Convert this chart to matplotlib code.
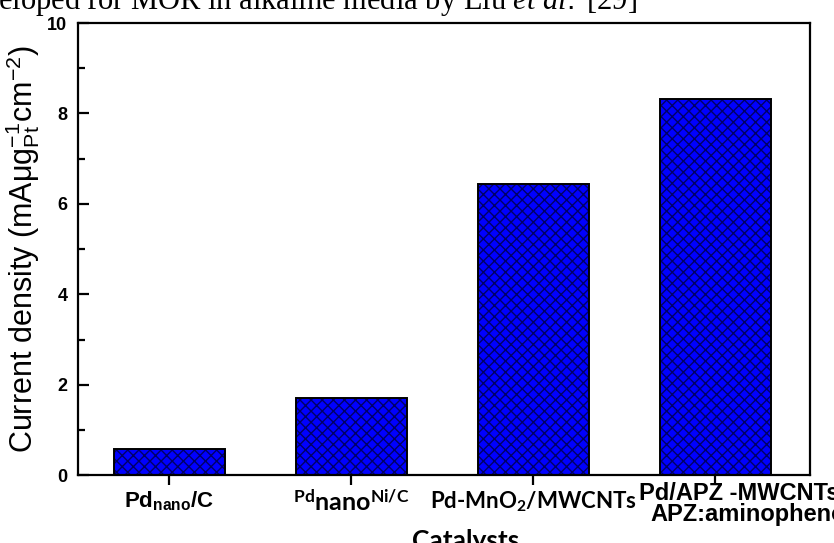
import matplotlib
matplotlib.use('Agg')
import matplotlib.pyplot as plt
import matplotlib.transforms as mtransforms
from matplotlib.ticker import MultipleLocator

plt.rcParams['font.family'] = ['Liberation Sans', 'DejaVu Sans']
plt.rcParams['mathtext.fontset'] = 'custom'
plt.rcParams['mathtext.rm'] = 'Liberation Sans'
plt.rcParams['mathtext.it'] = 'Liberation Serif:italic'
plt.rcParams['mathtext.bf'] = 'Lato:bold'
plt.rcParams['mathtext.sf'] = 'Liberation Sans:bold'
plt.rcParams['hatch.linewidth'] = 1.0

# data
catalysts = ['Pd$_{\\mathsf{nano}}$/C',
             '$^{\\mathbf{Pd}}\\mathbf{nano}^{\\mathbf{Ni/C}}$',
             'Pd-MnO$_{\\mathbf{2}}$/MWCNTs',
             '']
last_label = ['Pd/APZ -MWCNTs', 'APZ:aminophenol']
density = [0.58, 1.70, 6.43, 8.31]

fig = plt.figure(figsize=(8.34, 5.43), dpi=100)
ax = fig.add_axes([0.094, 0.125, 0.877, 0.8325])

x = list(range(len(density)))
ax.bar(x, density, width=0.61, color='#0000ff', edgecolor='#000066',
       hatch='xxx', linewidth=0, zorder=2)
ax.bar(x, density, width=0.61, fill=False, edgecolor='black',
       linewidth=1.4, zorder=3)

ax.set_xlim(-0.5, 3.52)
ax.set_ylim(0, 10)
ax.yaxis.set_major_locator(MultipleLocator(2))
ax.yaxis.set_minor_locator(MultipleLocator(1))

for s in ax.spines.values():
  s.set_linewidth(1.6)

ax.tick_params(axis='y', which='major', direction='in', length=8, width=1.6,
               pad=8, labelsize=13)
ax.tick_params(axis='y', which='minor', direction='in', length=5, width=1.6)
ax.tick_params(axis='x', direction='out', length=7, width=1.6, pad=3)
for lab in ax.get_yticklabels():
  lab.set_fontweight('bold')

ax.set_xticks(x)
ax.set_xticklabels(catalysts, fontsize=15, fontweight='bold')
labs = ax.get_xticklabels()
labs[0].set_fontsize(16)
labs[1].set_fontfamily('Lato')
labs[1].set_fontsize(18)
labs[2].set_fontfamily('Lato')
labs[2].set_fontsize(16)

trans = mtransforms.blended_transform_factory(ax.transData, ax.transAxes)
ax.text(2.58, -0.016, last_label[0], transform=trans, fontsize=17,
        fontweight='bold', va='top', ha='left', clip_on=False)
ax.text(2.645, -0.062, last_label[1], transform=trans, fontsize=17,
        fontweight='bold', va='top', ha='left', clip_on=False)

ax.set_ylabel('Current density (mAμg$_{\\mathrm{Pt}}^{-1}$cm$^{-2}$)', fontsize=22)
ax.yaxis.set_label_coords(-0.05, 0.5)
ax.set_xlabel('Catalysts', fontsize=19, fontweight='bold', family='Lato')
ax.xaxis.set_label_coords(0.53, -0.12)
ax.xaxis.label.set_va('top')

fig.text(-0.002, 0.983, 'eloped for MOR in alkaline media by Liu $et\\ al.$ [29]',
         family='Liberation Serif', fontsize=22, va='baseline', ha='left')

fig.savefig('out.png', dpi=100)
